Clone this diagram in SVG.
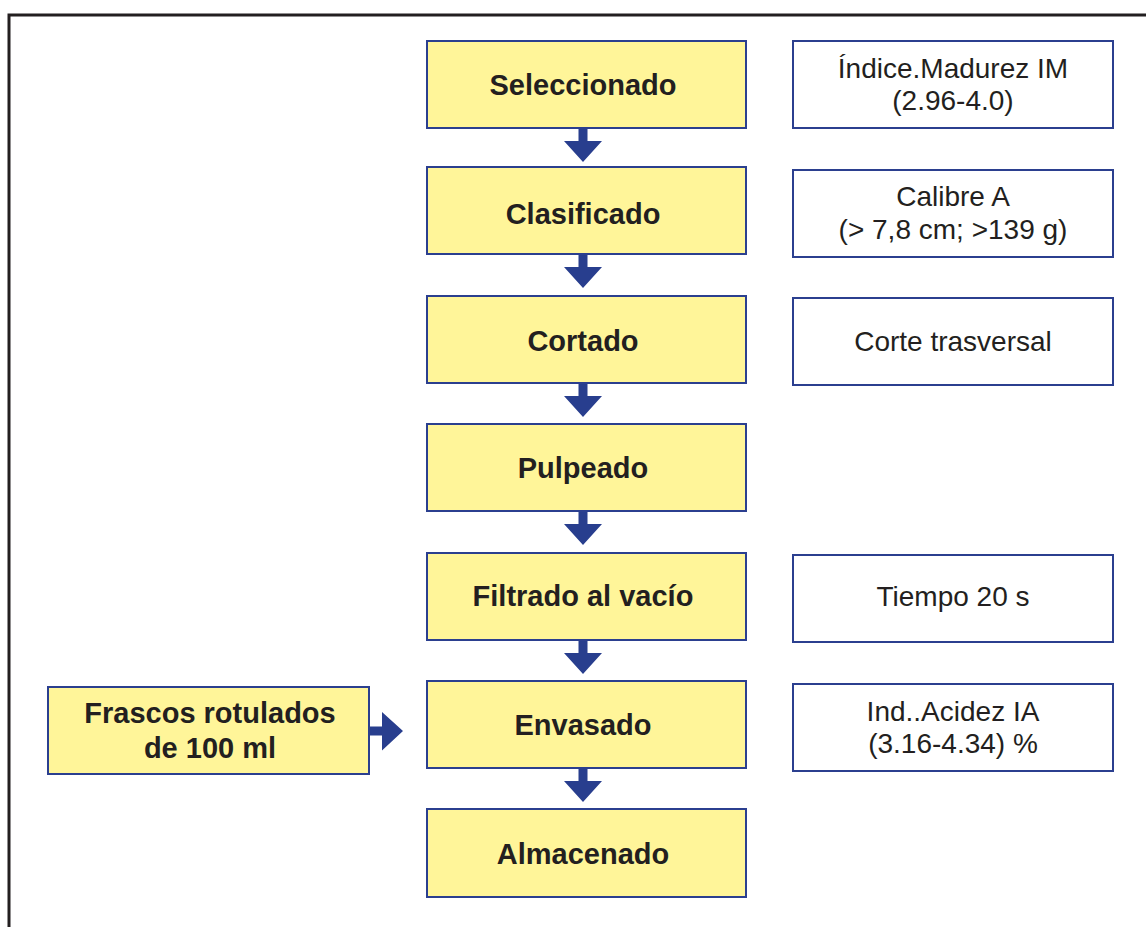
<svg xmlns="http://www.w3.org/2000/svg" width="1146" height="927" viewBox="0 0 1146 927">
<style>
.frame{fill:none;stroke:#231f20;stroke-width:3}
.step{fill:#fff599;stroke:#2b3f8f;stroke-width:2}
.note{fill:#ffffff;stroke:#2b3f8f;stroke-width:2}
.b{font-family:"Liberation Sans",Arial,sans-serif;font-weight:bold;font-size:29px;fill:#231f20;text-anchor:middle}
.r{font-family:"Liberation Sans",Arial,sans-serif;font-size:28px;fill:#231f20;text-anchor:middle}
.arr{fill:#283e8e}
</style>
<defs>
<path id="down" class="arr" d="M-4.5,0 H4.5 V13 H19 L0,34 L-19,13 H-4.5 Z"/>
</defs>
<rect width="1146" height="927" fill="#ffffff"/>
<path class="frame" d="M9,927 V15 H1146"/>
<g id="connectors">
<use href="#down" x="583" y="128"/>
<use href="#down" x="583" y="254"/>
<use href="#down" x="583" y="383"/>
<use href="#down" x="583" y="511"/>
<use href="#down" x="583" y="640"/>
<use href="#down" x="583" y="768"/>
<path class="arr" d="M369,726.5 H382 V712 L403,731 L382,750.5 V735.5 H369 Z"/>
</g>
<g id="n-seleccionado"><rect class="step" x="427" y="41" width="319" height="87"/><text class="b" x="583" y="95">Seleccionado</text></g>
<g id="n-clasificado"><rect class="step" x="427" y="167" width="319" height="87"/><text class="b" x="583" y="224">Clasificado</text></g>
<g id="n-cortado"><rect class="step" x="427" y="296" width="319" height="87"/><text class="b" x="583" y="351">Cortado</text></g>
<g id="n-pulpeado"><rect class="step" x="427" y="424" width="319" height="87"/><text class="b" x="583" y="478">Pulpeado</text></g>
<g id="n-filtrado"><rect class="step" x="427" y="553" width="319" height="87"/><text class="b" x="583" y="606">Filtrado al vacío</text></g>
<g id="n-envasado"><rect class="step" x="427" y="681" width="319" height="87"/><text class="b" x="583" y="735">Envasado</text></g>
<g id="n-almacenado"><rect class="step" x="427" y="809" width="319" height="88"/><text class="b" x="583" y="864">Almacenado</text></g>
<g id="n-frascos"><rect class="step" x="48" y="687" width="321" height="87"/><text class="b" x="210" y="723">Frascos rotulados</text><text class="b" x="210" y="758">de 100 ml</text></g>
<g id="n-indice"><rect class="note" x="793" y="41" width="320" height="87"/><text class="r" x="953" y="78">Índice.Madurez IM</text><text class="r" x="953" y="110">(2.96-4.0)</text></g>
<g id="n-calibre"><rect class="note" x="793" y="170" width="320" height="87"/><text class="r" x="953" y="206">Calibre A</text><text class="r" x="953" y="239">(&gt; 7,8 cm; &gt;139 g)</text></g>
<g id="n-corte"><rect class="note" x="793" y="298" width="320" height="87"/><text class="r" x="953" y="351">Corte trasversal</text></g>
<g id="n-tiempo"><rect class="note" x="793" y="555" width="320" height="87"/><text class="r" x="953" y="606">Tiempo 20 s</text></g>
<g id="n-acidez"><rect class="note" x="793" y="684" width="320" height="87"/><text class="r" x="953" y="721">Ind..Acidez IA</text><text class="r" x="953" y="753">(3.16-4.34) %</text></g>
</svg>
